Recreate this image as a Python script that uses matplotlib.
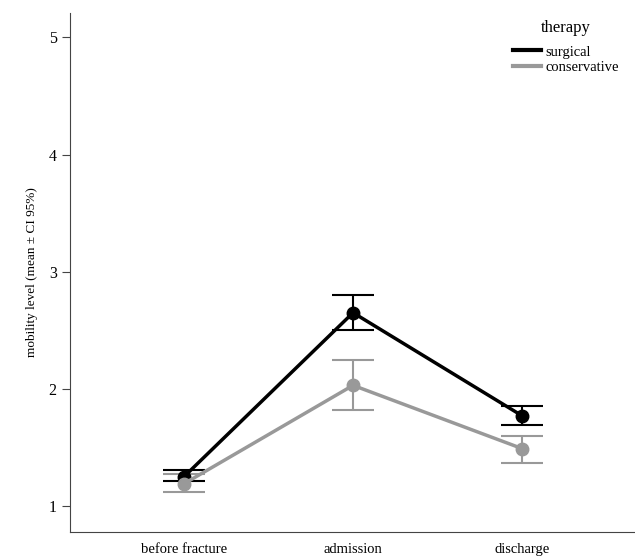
import matplotlib.pyplot as plt
from matplotlib.lines import Line2D

plt.rcParams['font.family'] = ['Liberation Serif', 'DejaVu Serif']

stages = ["before fracture", "admission", "discharge"]
surg_mean = [1.25, 2.65, 1.77]
surg_lo = [1.21, 2.50, 1.69]
surg_hi = [1.31, 2.80, 1.85]
cons_mean = [1.19, 2.03, 1.49]
cons_lo = [1.12, 1.82, 1.37]
cons_hi = [1.27, 2.25, 1.60]

fig = plt.figure(figsize=(6.35, 5.58), dpi=100)
ax = fig.add_axes([0.110, 0.047, 0.888, 0.930])

x = range(len(stages))
for mean, lo, hi, col, lab in [(surg_mean, surg_lo, surg_hi, "black", "surgical"),
                               (cons_mean, cons_lo, cons_hi, "#999999", "conservative")]:
    err = [[m - l for m, l in zip(mean, lo)], [h - m for m, h in zip(mean, hi)]]
    ax.errorbar(x, mean, yerr=err, color=col, lw=2.5, marker='o', ms=9,
                capsize=15, capthick=1.5, elinewidth=1.5, label=lab)

ax.set_xlim(-0.675, 2.66)
ax.set_ylim(0.78, 5.21)
ax.set_yticks([1, 2, 3, 4, 5])
ax.set_xticks(list(x))
ax.set_xticklabels(stages, fontsize=10.5)
ax.tick_params(axis='x', length=0, pad=8)
ax.tick_params(axis='y', labelsize=11.5, length=6, color='#444444')
ax.spines['top'].set_visible(False)
ax.spines['right'].set_visible(False)
ax.spines['left'].set_color('#444444')
ax.spines['bottom'].set_color('#444444')
ax.set_ylabel("mobility level (mean ± CI 95%)", fontsize=9.5, labelpad=8)

labels = ["surgical", "conservative"]
h = [Line2D([], [], color="black", lw=3), Line2D([], [], color="#999999", lw=3)]
leg = ax.legend(h, labels, title="therapy", loc='upper left', bbox_to_anchor=(0.786, 0.987),
                frameon=False, fontsize=10.5, title_fontsize=12, handlelength=1.9,
                handletextpad=0.3, labelspacing=0.15, borderpad=0, borderaxespad=0)
leg._legend_box.sep = 7

fig.savefig("out.png", dpi=100)
